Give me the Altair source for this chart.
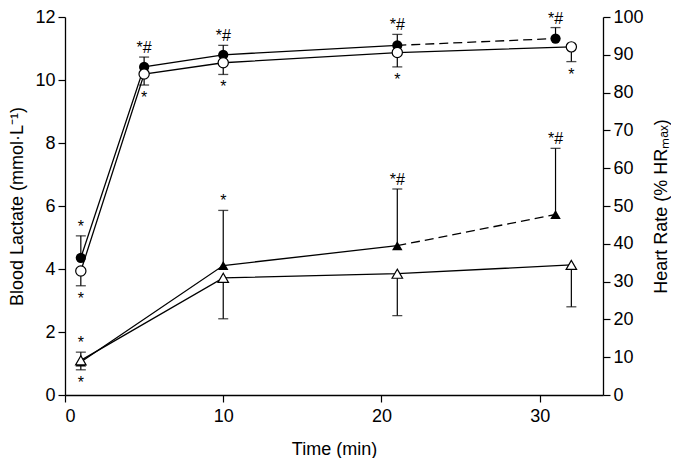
import altair as alt
import pandas as pd

# ---- data ----
# Heart rate (% HRmax), circles
time_hr_filled = [1, 5, 10, 21, 31]
hr_filled = [36.3, 86.8, 90.0, 92.5, 94.3]
hr_filled_upper = [42.1, 89.4, 92.5, 95.4, 97.2]
hr_filled_sig = ["*", "*#", "*#", "*#", "*#"]

time_hr_open = [1, 5, 10, 21, 32]
hr_open = [32.8, 84.9, 87.9, 90.6, 92.1]
hr_open_lower = [28.9, 82.0, 84.8, 86.8, 88.2]
hr_open_sig = ["*", "*", "*", "*", "*"]

# Blood lactate (mmol/L), triangles
time_la_filled = [1, 10, 21, 31]
la_filled = [1.05, 4.11, 4.74, 5.73]
la_filled_upper = [1.36, 5.86, 6.54, 7.83]
la_filled_sig = ["*", "*", "*#", "*#"]

time_la_open = [1, 10, 21, 32]
la_open = [1.10, 3.72, 3.85, 4.13]
la_open_lower = [0.80, 2.42, 2.52, 2.80]
la_open_sig = ["*", "", "", ""]

x_ticks = [0, 10, 20, 30]
la_ticks = [0, 2, 4, 6, 8, 10, 12]
hr_ticks = list(range(0, 101, 10))
dash_start = 21  # filled series are dashed from this time point on

FONT = "Liberation Sans"


def frame(t, v, e, s, name):
    return pd.DataFrame({"time": t, "value": v, "err": e, "sig": s, "series": name})


hr_f = frame(time_hr_filled, hr_filled, hr_filled_upper, hr_filled_sig, "filled")
hr_o = frame(time_hr_open, hr_open, hr_open_lower, hr_open_sig, "open")
la_f = frame(time_la_filled, la_filled, la_filled_upper, la_filled_sig, "filled")
la_o = frame(time_la_open, la_open, la_open_lower, la_open_sig, "open")

X = alt.X("time:Q", scale=alt.Scale(domain=[0, 34], nice=False),
          axis=alt.Axis(values=x_ticks, title="Time (min)", labelPadding=5, titlePadding=15))


def group(df_f, df_o, domain, ticks, title, orient, title_pad):
    def Y(field):
        return alt.Y(f"{field}:Q", scale=alt.Scale(domain=domain, nice=False),
                     axis=alt.Axis(orient=orient, values=ticks, title=title,
                                   titleAngle=270, titlePadding=title_pad))

    solid = pd.concat([df_f[df_f.time <= dash_start], df_o])
    dashed = df_f[df_f.time >= dash_start]
    base_line = dict(color="black", strokeWidth=1.3)
    layers = [
        alt.Chart(solid).mark_line(**base_line).encode(x=X, y=Y("value"), detail="series:N"),
        alt.Chart(dashed).mark_line(strokeDash=[9, 5], **base_line).encode(x=X, y=Y("value"), detail="series:N"),
    ]
    both = pd.concat([df_f, df_o])
    layers += [
        alt.Chart(both).mark_rule(color="black", strokeWidth=1.2).encode(x=X, y=Y("value"), y2="err:Q"),
        alt.Chart(both).mark_tick(orient="horizontal", size=10, thickness=1.3, color="black").encode(x=X, y=Y("err")),
    ]
    return layers, Y


SIG_SIZE = 16

# lactate group (left axis)
la_layers, YL = group(la_f, la_o, [0, 12], la_ticks, "Blood Lactate (mmol·L⁻¹)", "left", 8)
la_layers += [
    alt.Chart(la_f).mark_point(shape="triangle-up", size=110, filled=True, color="black", opacity=1)
    .encode(x=X, y=YL("value")),
    alt.Chart(la_o).mark_point(shape="triangle-up", size=110, fill="white", stroke="black",
                               strokeWidth=1.2, opacity=1, filled=True)
    .encode(x=X, y=YL("value")),
    alt.Chart(la_f).mark_text(font=FONT, fontSize=SIG_SIZE, baseline="alphabetic", dy=-4, color="black")
    .encode(x=X, y=YL("err"), text="sig:N"),
    alt.Chart(la_o).mark_text(font=FONT, fontSize=SIG_SIZE, baseline="alphabetic", dy=18, color="black")
    .encode(x=X, y=YL("err"), text="sig:N"),
]

# heart-rate group (right axis)
hr_layers, YH = group(hr_f, hr_o, [0, 100], hr_ticks, "Heart Rate (% HRₘₐₓ)", "right", 27)
hr_layers += [
    alt.Chart(hr_f).mark_point(shape="circle", size=105, filled=True, color="black", opacity=1)
    .encode(x=X, y=YH("value")),
    alt.Chart(hr_o).mark_point(shape="circle", size=105, fill="white", stroke="black",
                               strokeWidth=1.2, opacity=1, filled=True)
    .encode(x=X, y=YH("value")),
    alt.Chart(hr_f).mark_text(font=FONT, fontSize=SIG_SIZE, baseline="alphabetic", dy=-4, color="black")
    .encode(x=X, y=YH("err"), text="sig:N"),
    alt.Chart(hr_o).mark_text(font=FONT, fontSize=SIG_SIZE, baseline="alphabetic", dy=18, color="black")
    .encode(x=X, y=YH("err"), text="sig:N"),
]

chart = (
    alt.layer(alt.layer(*la_layers), alt.layer(*hr_layers))
    .resolve_scale(y="independent")
    .properties(width=538, height=378, padding={"left": 0, "top": 0, "right": 0, "bottom": 0})
    .configure_view(stroke=None)
    .configure_axis(
        grid=False, domainColor="black", tickColor="black", labelColor="black",
        titleColor="black", labelFont=FONT, titleFont=FONT, labelFontSize=18,
        titleFontSize=18, titleFontWeight="normal", tickSize=7, domainWidth=1.3,
        tickWidth=1.2, labelPadding=3,
    )
)

chart.save("out.html", embed_options={"renderer": "svg", "actions": False})
